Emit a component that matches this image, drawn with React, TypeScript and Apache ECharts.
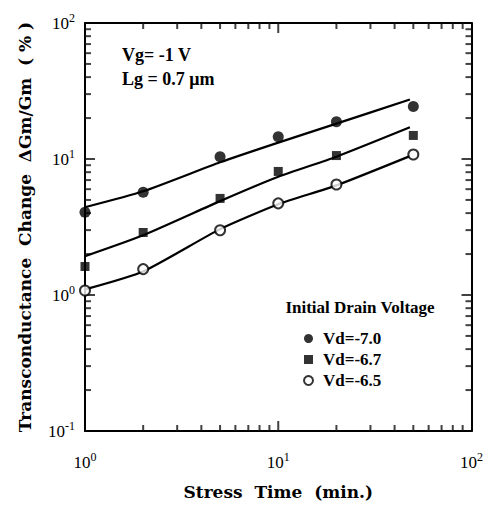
import React, { useEffect, useRef } from "react";
import * as echarts from "echarts";

// Stress time (min.) of the measured points
const stressTime = [1, 2, 5, 10, 20, 50];
// Measured transconductance change (%) per initial drain voltage
const vd70 = [4.06, 5.69, 10.4, 14.6, 18.8, 24.3];
const vd67 = [1.62, 2.88, 5.13, 8.1, 10.6, 14.9];
const vd65 = [1.08, 1.55, 2.99, 4.72, 6.5, 10.8];
// Fitted curves
const fitTime = [1, 2, 5, 10, 20, 48];
const fit70 = [4.42, 5.79, 9.46, 13.2, 18.2, 27.4];
const fit67 = [1.93, 2.75, 4.9, 7.4, 10.4, 17.1];
const fit65 = [1.1, 1.49, 3.05, 4.65, 6.4, 10.5];

const seriesNames = ["Vd=-7.0", "Vd=-6.7", "Vd=-6.5"];
const legendTitle = "Initial Drain Voltage";
const noteLines = ["Vg= -1 V", "Lg = 0.7 μm"];
const xName = "Stress  Time  (min.)";
const yName = "Transconductance  Change  ΔGm/Gm  ( % )";

// axis limits and tick values
const xMin = 1;
const xMax = 100;
const yMin = 0.1;
const yMax = 100;
const majorX = [10];
const majorY = [1, 10];
const minorX = [2, 3, 4, 5, 6, 7, 8, 9, 20, 30, 40, 50, 60, 70, 80, 90];
const minorY = [0.2, 0.3, 0.4, 0.5, 0.6, 0.7, 0.8, 0.9, 2, 3, 4, 5, 6, 7, 8, 9, 20, 30, 40, 50, 60, 70, 80, 90];

const SERIF = '"Liberation Serif", "Times New Roman", serif';
const BOLDSERIF = '"DejaVu Serif", "Liberation Serif", serif';

const pairs = (xs: number[], ys: number[]) => xs.map((x, i) => [x, ys[i]]);

const powLabel = (v: number) => {
  const e = Math.round(Math.log10(v));
  return `{b|10}{s|${e}}`;
};

const labelRich = {
  b: { fontSize: 17, fontFamily: SERIF, color: "#000" },
  s: { fontSize: 12, fontFamily: SERIF, color: "#000", padding: [0, 0, 10, 0] },
};

export default function App() {
  const ref = useRef<HTMLDivElement>(null);
  useEffect(() => {
    if (!ref.current) return;
    const chart = echarts.init(ref.current, undefined, { renderer: "svg" });

    const axisCommon = (isX: boolean) => ({
      type: "log",
      min: isX ? xMin : yMin,
      max: isX ? xMax : yMax,
      axisLine: { lineStyle: { color: "#000", width: 2 } },
      axisTick: { show: false },
      splitLine: { show: false },
    });

    const minLen = 6;
    const majLen = 10;
    const tw = 2;

    const tickSeries = (name: string, data: number[][], w: number, h: number, dx: number, dy: number) => ({
      name,
      type: "scatter",
      data,
      symbol: "rect",
      symbolSize: [w, h],
      symbolOffset: [dx, dy],
      itemStyle: { color: "#111" },
      clip: false,
    });

    const option: any = {
      animation: false,
      grid: { left: 85, right: 14, top: 23, bottom: 75 },
      xAxis: [
        {
          ...axisCommon(true),
          position: "bottom",
          axisLabel: { margin: 20, formatter: powLabel, rich: labelRich },
          name: xName,
          nameLocation: "middle",
          nameGap: 52,
          nameTextStyle: { fontFamily: BOLDSERIF, fontWeight: "bold", fontSize: 17, color: "#000" },
        },
        { ...axisCommon(true), position: "top", axisLabel: { show: false } },
      ],
      yAxis: [
        {
          ...axisCommon(false),
          position: "left",
          axisLabel: { margin: 10, formatter: powLabel, rich: labelRich },
          name: yName,
          nameLocation: "middle",
          nameGap: 52,
          nameTextStyle: { fontFamily: BOLDSERIF, fontWeight: "bold", fontSize: 17, color: "#000" },
        },
        { ...axisCommon(false), position: "right", axisLabel: { show: false } },
      ],
      legend: {
        orient: "vertical",
        left: 298,
        top: 325,
        itemWidth: 9,
        itemHeight: 9,
        itemGap: 4,
        textStyle: { fontFamily: SERIF, fontWeight: "bold", fontSize: 17, color: "#000", lineHeight: 14, padding: [0, 0, 0, 5] },
        data: [
          { name: seriesNames[0], icon: "circle" },
          { name: seriesNames[1], icon: "rect" },
          { name: seriesNames[2], icon: "circle" },
        ],
      },
      graphic: [
        {
          type: "text",
          x: 122,
          y: 55,
          style: { text: noteLines[0], fontFamily: SERIF, fontWeight: "bold", fontSize: 18, fill: "#000", verticalAlign: "middle" },
        },
        {
          type: "text",
          x: 122,
          y: 79,
          style: { text: noteLines[1], fontFamily: SERIF, fontWeight: "bold", fontSize: 18, fill: "#000", verticalAlign: "middle" },
        },
        {
          type: "text",
          x: 360,
          y: 307,
          style: { text: legendTitle, fontFamily: SERIF, fontWeight: "bold", fontSize: 17, fill: "#000", align: "center", verticalAlign: "middle" },
        },
      ],
      series: [
        // minor ticks: bottom, top, left, right
        tickSeries("tb", minorX.map((v) => [v, yMin]), tw, minLen, 0, -minLen / 2),
        tickSeries("tt", minorX.map((v) => [v, yMax]), tw, minLen, 0, minLen / 2),
        tickSeries("tl", minorY.map((v) => [xMin, v]), minLen, tw, minLen / 2, 0),
        tickSeries("tr", minorY.map((v) => [xMax, v]), minLen, tw, -minLen / 2, 0),
        // major ticks
        tickSeries("Tb", majorX.map((v) => [v, yMin]), tw, majLen, 0, -majLen / 2),
        tickSeries("Tt", majorX.map((v) => [v, yMax]), tw, majLen, 0, majLen / 2),
        tickSeries("Tl", majorY.map((v) => [xMin, v]), majLen, tw, majLen / 2, 0),
        tickSeries("Tr", majorY.map((v) => [xMax, v]), majLen, tw, -majLen / 2, 0),
        {
          name: "fit70",
          type: "line",
          data: pairs(fitTime, fit70),
          symbol: "none",
          smooth: 0.2,
          lineStyle: { color: "#000", width: 2.2 },
        },
        {
          name: "fit67",
          type: "line",
          data: pairs(fitTime, fit67),
          symbol: "none",
          smooth: 0.2,
          lineStyle: { color: "#000", width: 2.2 },
        },
        {
          name: "fit65",
          type: "line",
          data: pairs(fitTime, fit65),
          symbol: "none",
          smooth: 0.2,
          lineStyle: { color: "#000", width: 2.2 },
        },
        {
          name: seriesNames[0],
          type: "scatter",
          data: pairs(stressTime, vd70),
          symbol: "circle",
          symbolSize: 11,
          itemStyle: { color: "#000" },
          clip: false,
          z: 5,
        },
        {
          name: seriesNames[1],
          type: "scatter",
          data: pairs(stressTime, vd67),
          symbol: "rect",
          symbolSize: 9,
          itemStyle: { color: "#000" },
          clip: false,
          z: 5,
        },
        {
          name: seriesNames[2],
          type: "scatter",
          data: pairs(stressTime, vd65),
          symbol: "circle",
          symbolSize: 10,
          itemStyle: { color: "#fff", borderColor: "#000", borderWidth: 2 },
          clip: false,
          z: 5,
        },
      ],
    };

    chart.setOption(option);
    return () => chart.dispose();
  }, []);

  return (
    <div
      ref={ref}
      style={{ position: "fixed", left: 0, top: 0, width: 486, height: 506, background: "#fff" }}
    />
  );
}
